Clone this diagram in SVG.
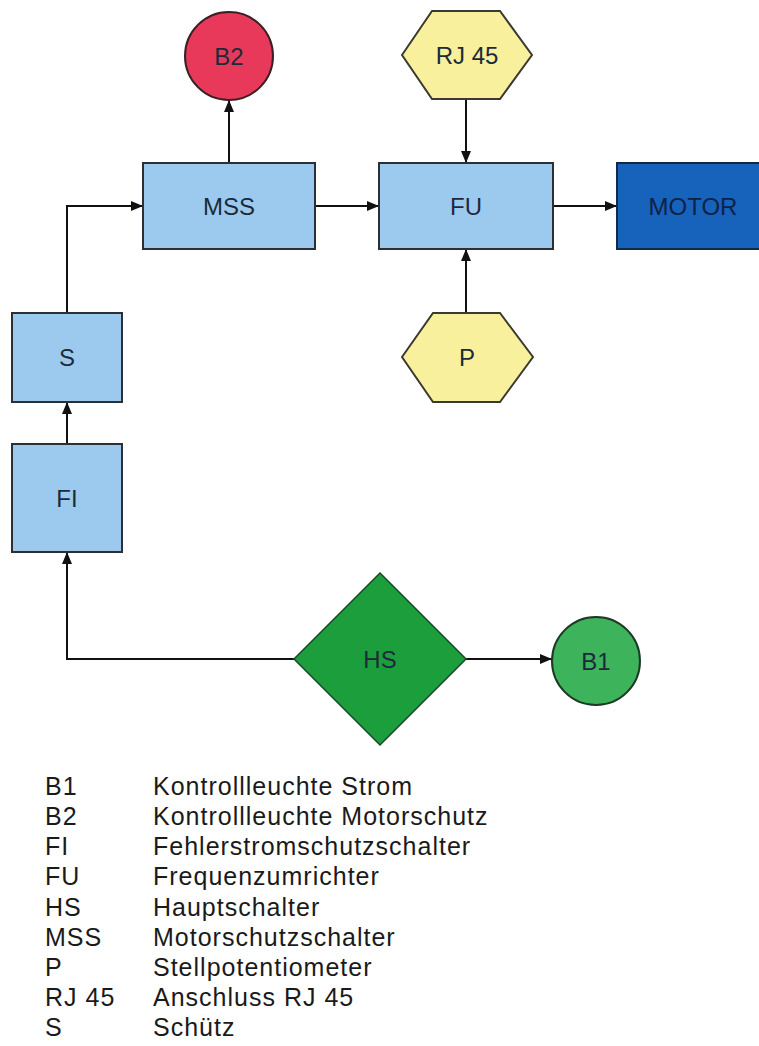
<svg xmlns="http://www.w3.org/2000/svg" width="759" height="1046" viewBox="0 0 759 1046">
<style>
.box{fill:#9ccaef;stroke:#2b3036;stroke-width:2}
.lbl{font-family:"Liberation Sans",Arial,sans-serif;font-size:24px;fill:#1c2a3a;text-anchor:middle;dominant-baseline:central}
.leg{font-family:"Liberation Sans",Arial,sans-serif;font-size:25px;fill:#1a1a1a;letter-spacing:1px}
.con{fill:none;stroke:#111;stroke-width:2;marker-end:url(#ah)}
</style>
<defs>
<marker id="ah" markerWidth="12" markerHeight="10" refX="12" refY="5" orient="auto" markerUnits="userSpaceOnUse">
<path d="M0,0 L12,5 L0,10 z" fill="#111"/>
</marker>
</defs>
<rect width="759" height="1046" fill="#fff"/>
<g id="connectors">
<path class="con" d="M229,163 V100"/>
<path class="con" d="M466,99 V163"/>
<path class="con" d="M466,313 V249"/>
<path class="con" d="M315,206 H379"/>
<path class="con" d="M553,206 H617"/>
<path class="con" d="M67,313 V206 H143"/>
<path class="con" d="M67,444 V402"/>
<path class="con" d="M294,659 H67 V552"/>
<path class="con" d="M466,659 H552"/>
</g>
<g id="B2"><circle cx="229" cy="56" r="44" fill="#e8395b" stroke="#3a2025" stroke-width="2"/><text class="lbl" x="229" y="56">B2</text></g>
<g id="RJ45"><polygon points="402,55 432,11 500,11 532,55 500,99 432,99" fill="#f8f09c" stroke="#3a3a30" stroke-width="2"/><text class="lbl" x="467" y="55">RJ 45</text></g>
<g id="MSS"><rect class="box" x="143" y="163" width="172" height="86"/><text class="lbl" x="229" y="206">MSS</text></g>
<g id="FU"><rect class="box" x="379" y="163" width="174" height="86"/><text class="lbl" x="466" y="206">FU</text></g>
<g id="MOTOR"><rect x="617" y="163" width="150" height="86" fill="#1762bb" stroke="#102a4a" stroke-width="2"/><text class="lbl" x="693" y="206" style="fill:#0c2347">MOTOR</text></g>
<g id="P"><polygon points="402,357 433,313 500,313 533,357 500,402 433,402" fill="#f8f09c" stroke="#3a3a30" stroke-width="2"/><text class="lbl" x="467" y="357">P</text></g>
<g id="S"><rect class="box" x="12" y="313" width="110" height="89"/><text class="lbl" x="67" y="357">S</text></g>
<g id="FI"><rect class="box" x="12" y="444" width="110" height="108"/><text class="lbl" x="67" y="498">FI</text></g>
<g id="HS"><polygon points="380,573 466,659 380,745 294,659" fill="#1c9e3c" stroke="#1a4a25" stroke-width="1.5"/><text class="lbl" x="380" y="659">HS</text></g>
<g id="B1"><circle cx="596" cy="661" r="44" fill="#3db35c" stroke="#1d3a25" stroke-width="2"/><text class="lbl" x="596" y="661">B1</text></g>
<g id="legend">
<text class="leg" x="45" y="795">B1</text><text class="leg" x="153" y="795">Kontrollleuchte Strom</text>
<text class="leg" x="45" y="825">B2</text><text class="leg" x="153" y="825">Kontrollleuchte Motorschutz</text>
<text class="leg" x="45" y="855">FI</text><text class="leg" x="153" y="855">Fehlerstromschutzschalter</text>
<text class="leg" x="45" y="885">FU</text><text class="leg" x="153" y="885">Frequenzumrichter</text>
<text class="leg" x="45" y="916">HS</text><text class="leg" x="153" y="916">Hauptschalter</text>
<text class="leg" x="45" y="946">MSS</text><text class="leg" x="153" y="946">Motorschutzschalter</text>
<text class="leg" x="45" y="976">P</text><text class="leg" x="153" y="976">Stellpotentiometer</text>
<text class="leg" x="45" y="1006">RJ 45</text><text class="leg" x="153" y="1006">Anschluss RJ 45</text>
<text class="leg" x="45" y="1036">S</text><text class="leg" x="153" y="1036">Schütz</text>
</g>
</svg>
